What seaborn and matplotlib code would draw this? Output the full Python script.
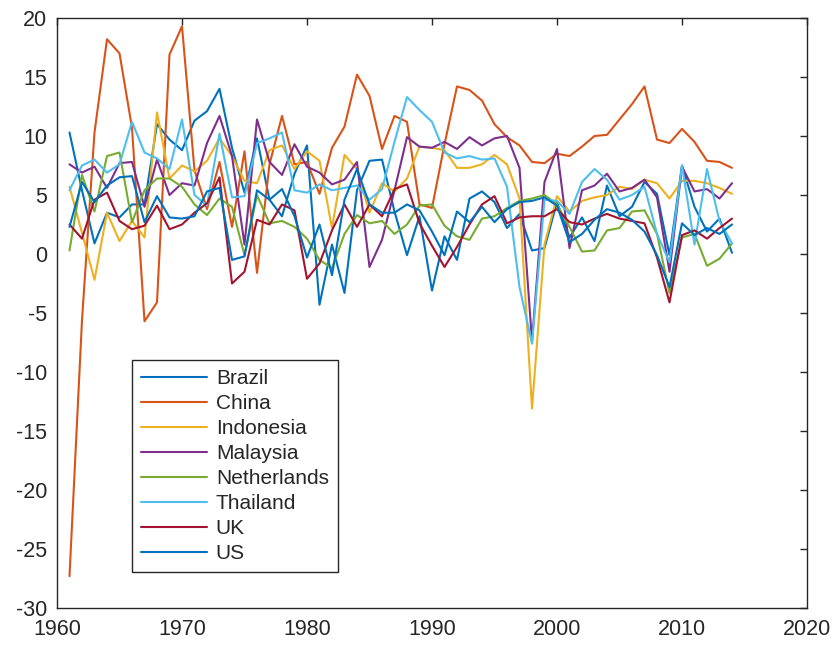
import matplotlib
matplotlib.use("Agg")
import matplotlib.pyplot as plt
import seaborn as sns
import pandas as pd
import numpy as np

years = list(range(1961, 2015))

countries = ["Brazil", "China", "Indonesia", "Malaysia", "Netherlands", "Thailand", "UK", "US"]

brazil = [10.3, 5.4, 0.9, 3.5, 3.1, 4.2, 4.2, 11.0, 9.7, 8.8, 11.3, 12.1, 14.0, 9.0, 5.2,
          9.8, 4.6, 3.2, 6.8, 9.2, -4.3, 0.8, -3.3, 5.4, 7.9, 8.0, 3.6, -0.1, 3.2, -3.1,
          1.5, -0.5, 4.7, 5.3, 4.4, 2.2, 3.4, 0.3, 0.5, 4.4, 1.4, 3.1, 1.1, 5.8, 3.2,
          4.0, 6.1, 5.1, -0.1, 7.5, 4.0, 1.9, 3.0, 0.1]
china = [-27.3, -5.6, 10.3, 18.2, 17.0, 10.7, -5.7, -4.1, 16.9, 19.3, 7.1, 3.8, 7.8, 2.3, 8.7,
         -1.6, 7.6, 11.7, 7.6, 7.8, 5.1, 9.0, 10.8, 15.2, 13.4, 8.9, 11.7, 11.2, 4.2, 3.9,
         9.3, 14.2, 13.9, 13.0, 11.0, 9.9, 9.2, 7.8, 7.7, 8.5, 8.3, 9.1, 10.0, 10.1, 11.4,
         12.7, 14.2, 9.7, 9.4, 10.6, 9.5, 7.9, 7.8, 7.3]
indonesia = [5.7, 1.8, -2.2, 3.5, 1.1, 2.8, 1.4, 12.0, 6.4, 7.5, 7.0, 7.9, 9.8, 8.3, 6.2,
             6.0, 8.8, 9.2, 7.2, 8.7, 7.9, 2.2, 8.4, 7.2, 3.5, 6.0, 5.3, 6.4, 9.1, 9.0,
             8.8, 7.3, 7.3, 7.6, 8.4, 7.6, 4.7, -13.1, 0.8, 4.9, 3.6, 4.5, 4.8, 5.0, 5.7,
             5.5, 6.3, 6.0, 4.7, 6.2, 6.2, 6.0, 5.6, 5.1]
malaysia = [7.6, 6.9, 7.4, 5.6, 7.7, 7.8, 4.0, 8.0, 5.0, 6.0, 5.8, 9.4, 11.7, 8.3, 0.8,
            11.4, 7.8, 6.7, 9.3, 7.4, 6.9, 5.9, 6.3, 7.8, -1.1, 1.2, 5.4, 9.9, 9.1, 9.0,
            9.5, 8.9, 9.9, 9.2, 9.8, 10.0, 7.3, -7.4, 6.1, 8.9, 0.5, 5.4, 5.8, 6.8, 5.3,
            5.6, 6.3, 4.8, -1.5, 7.4, 5.3, 5.5, 4.7, 6.0]
netherlands = [0.3, 6.7, 3.6, 8.3, 8.6, 2.7, 5.4, 6.4, 6.4, 5.7, 4.2, 3.3, 4.7, 4.0, -0.1,
               5.0, 2.6, 2.8, 2.3, 1.3, -0.5, -1.2, 1.7, 3.3, 2.6, 2.8, 1.7, 2.5, 4.1, 4.2,
               2.4, 1.5, 1.2, 3.0, 3.2, 3.9, 4.5, 4.7, 5.0, 4.2, 2.3, 0.2, 0.3, 2.0, 2.2,
               3.6, 3.7, 1.7, -3.3, 1.4, 1.7, -1.0, -0.4, 0.9]
thailand = [5.4, 7.5, 8.0, 6.9, 7.6, 11.2, 8.6, 8.1, 7.2, 11.4, 5.0, 4.1, 10.2, 4.8, 4.9,
            9.4, 9.8, 10.3, 5.4, 5.2, 5.9, 5.4, 5.6, 5.8, 4.6, 5.5, 9.5, 13.3, 12.2, 11.2,
            8.6, 8.1, 8.3, 8.0, 8.1, 5.7, -2.8, -7.6, 4.6, 4.5, 3.4, 6.1, 7.2, 6.3, 4.6,
            5.0, 5.7, 1.7, -0.7, 7.5, 0.8, 7.2, 2.8, 0.9]
uk = [2.5, 1.3, 4.6, 5.2, 2.8, 2.1, 2.4, 4.1, 2.1, 2.5, 3.5, 4.3, 6.5, -2.5, -1.5,
      2.9, 2.5, 4.2, 3.7, -2.1, -0.8, 2.0, 4.2, 2.3, 4.2, 3.2, 5.5, 5.9, 2.6, 0.7,
      -1.1, 0.6, 2.5, 4.2, 4.9, 2.6, 3.1, 3.2, 3.2, 3.8, 2.7, 2.5, 3.0, 3.4, 3.0,
      2.8, 2.6, -0.3, -4.1, 1.6, 2.0, 1.3, 2.2, 3.0]
us = [2.3, 6.1, 4.4, 5.8, 6.5, 6.6, 2.7, 4.9, 3.1, 3.0, 3.2, 5.3, 5.6, -0.5, -0.2,
      5.4, 4.6, 5.5, 3.2, -0.3, 2.5, -1.8, 4.6, 7.2, 4.2, 3.5, 3.5, 4.2, 3.7, 1.9,
      -0.1, 3.6, 2.7, 4.0, 2.7, 3.8, 4.4, 4.5, 4.8, 4.1, 1.0, 1.7, 2.9, 3.8, 3.5,
      2.9, 1.9, -0.1, -2.8, 2.6, 1.6, 2.2, 1.7, 2.5]

series = [brazil, china, indonesia, malaysia, netherlands, thailand, uk, us]

palette = ["#0072BD", "#D95319", "#EDB120", "#7E2F8E", "#77AC30", "#4DBEEE", "#A2142F", "#0072BD"]

x_ticks = list(range(1960, 2021, 10))
y_ticks = list(range(-30, 21, 5))

df = pd.DataFrame({
    "Year": np.tile(years, len(countries)),
    "Growth": np.concatenate(series),
    "Country": np.repeat(countries, len(years)),
})

sns.set_style("white")
plt.rcParams["font.family"] = ["Liberation Sans", "DejaVu Sans"]
plt.rcParams["axes.unicode_minus"] = False

fig = plt.figure(figsize=(8.35, 6.45), dpi=100)
ax = fig.add_axes([57 / 835, 1 - 608 / 645, 750 / 835, 590 / 645])

sns.lineplot(data=df, x="Year", y="Growth", hue="Country", hue_order=countries,
             palette=palette, linewidth=1.5, ax=ax, estimator=None, sort=False)

ax.set_xlim(1960, 2020)
ax.set_ylim(-30, 20)
ax.set_xticks(x_ticks)
ax.set_yticks(y_ticks)
ax.set_xlabel("")
ax.set_ylabel("")

for s in ax.spines.values():
    s.set_color("#262626")
    s.set_linewidth(1.0)
    s.set_visible(True)

ax.tick_params(axis="both", which="both", direction="in", length=5, width=1.0,
               colors="#262626", labelsize=15.5, top=True, right=True,
               labeltop=False, labelright=False)
ax.tick_params(axis="x", pad=8)
ax.tick_params(axis="y", pad=7)

handles, labels = ax.get_legend_handles_labels()
leg = ax.legend(handles, labels, loc="upper left", bbox_to_anchor=(0.1, 0.42),
                fontsize=15, frameon=True, fancybox=False, framealpha=1,
                edgecolor="#262626", handlelength=3.2, handletextpad=0.4,
                labelspacing=0.29, borderpad=0.42, borderaxespad=0)
leg.get_frame().set_linewidth(1.0)
for lh in leg.get_lines():
    lh.set_linewidth(1.5)

fig.savefig("out.png", dpi=100)
